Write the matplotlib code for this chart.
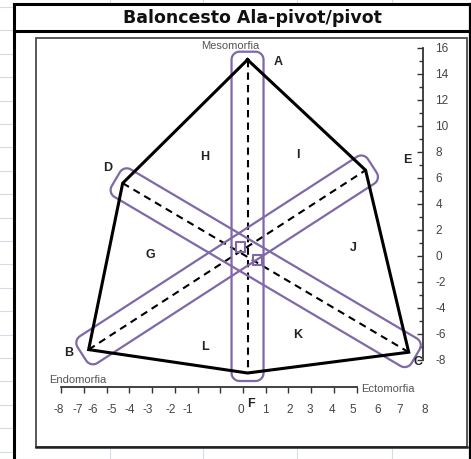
import matplotlib
matplotlib.use('Agg')
import matplotlib.pyplot as plt
from matplotlib.patches import Polygon, Rectangle
import numpy as np

plt.rcParams['axes.unicode_minus'] = False

# somatochart outline, vertices in drawing order
vert_names = ['A', 'E', 'C', 'F', 'B', 'D']
vert_x = [0.2, 5.4, 7.3, 0.2, -6.8, -5.3]
vert_y = [15.1, 6.6, -7.4, -9.0, -7.2, 5.6]

# axes of the chart (opposite vertices)
axis_pairs = [('A', 'F'), ('D', 'C'), ('B', 'E')]

# region letters
region_names = ['G', 'H', 'I', 'J', 'K', 'L']
region_x = [-4.1, -1.67, 2.42, 4.85, 2.42, -1.67]
region_y = [0.1, 7.6, 7.8, 0.6, -6.1, -7.0]

# subject points near the centre
pts_x = [-0.1, 0.65]
pts_y = [0.7, -0.3]

xtick_labels = ['-8', '-7', '-6', '-5', '-4', '-3', '-2', '-1', '0',
                '1', '2', '3', '4', '5', '6', '7', '8']
ytick_vals = list(range(-8, 17, 2))

title = 'Baloncesto Ala-pivot/pivot'

# ---- layout (pixels of the 471x459 picture) ----
W, H = 471, 459
X0, X1, Y0, Y1 = 36, 467, 38, 447      # inner chart box
SX, SY, OX, OY = 22.7, 13.0, 243, 256  # px per unit, origin
xlab_pos = [-8.1, -7.3, -6.6, -5.8, -5.0, -4.2, -3.2, -2.45, -0.1,
            0.97, 2.07, 2.95, 3.92, 4.85, 5.95, 6.92, 8.02]
vlab_pos = {'A': (1.54, 14.9), 'B': (-7.7, -7.45), 'C': (7.7, -8.15),
            'D': (-5.95, 6.8), 'E': (7.22, 7.4), 'F': (0.35, -11.35)}
purple = '#7e68a8'
tickc = '#444444'

fig = plt.figure(figsize=(W / 100, H / 100), dpi=100)
fig.patch.set_facecolor('white')

# background: spreadsheet cells and frame, in pixel coords
bg = fig.add_axes([0, 0, 1, 1])
bg.set_xlim(0, W)
bg.set_ylim(H, 0)
bg.axis('off')
grid_c = '#d4dbe6'
for gy in np.arange(7, H, 23.4):
    bg.plot([0, 14], [gy, gy], color=grid_c, lw=0.8)
for gx in [110, 203, 297, 392]:
    bg.plot([gx, gx], [0, 4], color=grid_c, lw=0.8)
    bg.plot([gx, gx], [449, H], color=grid_c, lw=0.8)
bg.plot([0, W], [H - 0.5, H - 0.5], color=grid_c, lw=0.8)
bg.plot([14, 14], [4, H], color='black', lw=2.2)
bg.plot([14, W], [4, 4], color='black', lw=2.2)
bg.plot([14, W], [31, 31], color='black', lw=2.2)
bg.plot([470, 470], [4, H], color='black', lw=1.6)
bg.add_patch(Rectangle((X0, Y0), X1 - X0, Y1 - Y0, fill=False,
                       ec='#4a4a4a', lw=1.3))
bg.plot([X0, X1], [Y1, Y1], color='#222222', lw=1.8)
bg.text(252, 18, title, ha='center', va='center', fontsize=12.5,
        fontweight='bold', family='DejaVu Sans', color='#111111')

# main chart
ax = fig.add_axes([X0 / W, 1 - Y1 / H, (X1 - X0) / W, (Y1 - Y0) / H])
ax.patch.set_alpha(0)
ax.set_xlim((X0 - OX) / SX, (X1 - OX) / SX)
ax.set_ylim((OY - Y1) / SY, (OY - Y0) / SY)

for s in ['top', 'left']:
    ax.spines[s].set_visible(False)
ax.spines['bottom'].set_position(('data', -10.1))
ax.spines['bottom'].set_bounds(-8, 5)
ax.spines['right'].set_position(('data', 7.93))
ax.spines['right'].set_bounds(-8, 16)
for s in ['bottom', 'right']:
    ax.spines[s].set_color('#333333')
    ax.spines[s].set_linewidth(1.3)

ax.set_xticks(range(-8, 6))
ax.set_xticklabels([])
ax.tick_params(axis='x', direction='out', length=4, width=1, color='#333333')
ax.yaxis.tick_right()
ax.set_yticks(ytick_vals)
ax.set_yticks(range(-8, 17), minor=True)
ax.tick_params(axis='y', which='major', direction='in', length=4, width=1,
               color='#333333', labelsize=8.5, labelcolor=tickc, pad=9)
ax.tick_params(axis='y', which='minor', direction='in', length=3, width=1,
               color='#333333')
for lab in ax.get_yticklabels():
    lab.set_family('Liberation Sans')

for p, t in zip(xlab_pos, xtick_labels):
    ax.text(p, -11.85, t, ha='center', va='center', fontsize=8.5,
            color=tickc, family='Liberation Sans')

vx = dict(zip(vert_names, vert_x))
vy = dict(zip(vert_names, vert_y))


def band(p0, p1, hw=16, ext=8, r=8, n=10):
    a, b = ax.transData.transform([p0, p1])
    mid = (a + b) / 2
    d = b - a
    ln = np.hypot(*d)
    u = d / ln
    v = np.array([-u[1], u[0]])
    half = ln / 2 + ext
    pts = []
    for cx, cy, t0 in [(half - r, hw - r, 0), (-(half - r), hw - r, 90),
                       (-(half - r), -(hw - r), 180), (half - r, -(hw - r), 270)]:
        for t in np.radians(np.linspace(t0, t0 + 90, n)):
            pts.append(mid + (cx + r * np.cos(t)) * u + (cy + r * np.sin(t)) * v)
    pts = ax.transData.inverted().transform(np.array(pts))
    ax.add_patch(Polygon(pts, closed=True, fill=False, ec=purple, lw=1.6,
                         zorder=3))


for a, b in axis_pairs:
    band((vx[a], vy[a]), (vx[b], vy[b]))
    ax.plot([vx[a], vx[b]], [vy[a], vy[b]], color='black', lw=1.5,
            linestyle=(0, (3.5, 2.5)), zorder=2)

ax.plot(vert_x + vert_x[:1], vert_y + vert_y[:1], color='black', lw=2.2,
        solid_joinstyle='miter', zorder=4)

ax.scatter(pts_x, pts_y, marker='s', s=45, facecolor='none',
           edgecolor=purple, lw=1.5, zorder=5)

for nme in vert_names:
    ax.text(*vlab_pos[nme], nme, ha='center', va='center', fontsize=9,
            fontweight='bold', family='Liberation Sans', color='#222222')
for nme, x, y in zip(region_names, region_x, region_y):
    ax.text(x, y, nme, ha='center', va='center', fontsize=9,
            fontweight='bold', family='Liberation Sans', color='#222222')

ax.text(-0.57, 16.15, 'Mesomorfia', ha='center', va='center', fontsize=8,
        color='#555555', family='Liberation Sans')
ax.text(-7.3, -9.55, 'Endomorfia', ha='center', va='center', fontsize=8,
        color='#555555', family='Liberation Sans')
ax.text(6.4, -10.25, 'Ectomorfia', ha='center', va='center', fontsize=8,
        color='#555555', family='Liberation Sans')

fig.savefig('out.png', dpi=100)
